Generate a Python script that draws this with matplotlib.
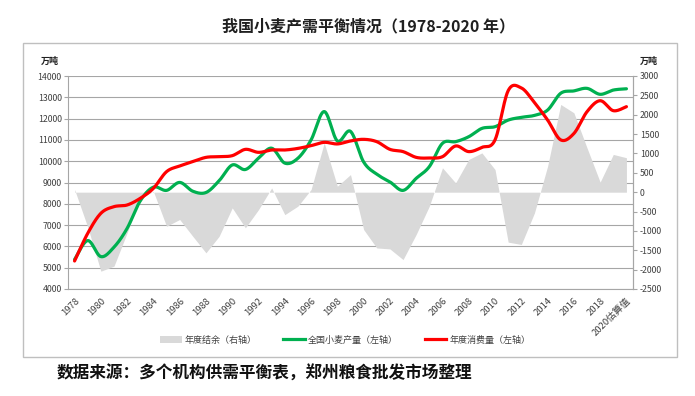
import numpy as np
import matplotlib
matplotlib.use("Agg")
import matplotlib.pyplot as plt
from matplotlib.patches import Patch, Rectangle
from matplotlib.lines import Line2D

plt.rcParams['font.family'] = ['Noto Sans CJK SC', 'DejaVu Sans']
plt.rcParams['axes.unicode_minus'] = False

years = list(range(1978, 2021))
tick_labels = [str(y) for y in years[:-1]] + ["2020估算值"]

production = [5384, 6273, 5521, 5964, 6847, 8139, 8782, 8630, 9004, 8590,
              8530, 9081, 9823, 9610, 10140, 10610, 9910, 10140, 11000, 12329,
              10950, 11400, 9964, 9387, 9029, 8630, 9195, 9745, 10840, 10917,
              11150, 11540, 11620, 11930, 12060, 12150, 12400, 13190, 13300, 13420,
              13140, 13340, 13400]

consumption = [5315, 6613, 7553, 7866, 7944, 8257, 8726, 9509, 9775, 9978,
               10180, 10213, 10260, 10556, 10416, 10526, 10526, 10600, 10730, 10886,
               10810, 10950, 11027, 10917, 10556, 10450, 10180, 10150, 10213, 10714,
               10450, 10650, 11000, 13311, 13440, 12750, 11934, 11000, 11300, 12325,
               12840, 12372, 12560]

surplus = [70, -900, -2040, -1910, -1050, -150, 20, -880, -705, -1140,
           -1566, -1140, -405, -920, -450, 110, -580, -360, 70, 1275,
           155, 455, -965, -1440, -1465, -1740, -1090, -360, 630, 240,
           845, 1015, 585, -1290, -1350, -535, 670, 2265, 2050, 1145,
           260, 975, 890]

title = "我国小麦产需平衡情况（1978-2020 年）"
source = "数据来源：多个机构供需平衡表，郑州粮食批发市场整理"
legend_labels = ["年度结余（右轴）", "全国小麦产量（左轴）", "年度消费量（左轴）"]

GREEN = "#00b050"
RED = "#ff0000"
GRAY = "#d9d9d9"
LINEC = "#a6a6a6"


def smooth(x, y, n=24):
    pts = np.column_stack([x, y]).astype(float)
    P = np.vstack([pts[0], pts, pts[-1]])
    out = []
    t = np.linspace(0, 1, n, endpoint=False)[:, None]
    for i in range(len(pts) - 1):
        p0, p1, p2, p3 = P[i], P[i + 1], P[i + 2], P[i + 3]
        c = 0.5 * ((2 * p1) + (-p0 + p2) * t + (2 * p0 - 5 * p1 + 4 * p2 - p3) * t ** 2
                   + (-p0 + 3 * p1 - 3 * p2 + p3) * t ** 3)
        out.append(c)
    out.append(pts[-1][None, :])
    out = np.vstack(out)
    return out[:, 0], out[:, 1]


W, H = 695, 396
fig = plt.figure(figsize=(W / 100, H / 100), dpi=100)

L, R, T, B = 68, 633, 76, 289
ax1 = fig.add_axes([L / W, 1 - B / H, (R - L) / W, (B - T) / H])
ax2 = ax1.twinx()

x = np.arange(len(years))
ax1.set_xlim(-0.5, len(years) - 0.5)
ax1.set_ylim(4000, 14000)
ax2.set_ylim(-2500, 3000)
ax1.set_autoscale_on(False)
ax2.set_autoscale_on(False)

ax1.set_yticks(range(4000, 14001, 1000))
ax2.set_yticks(range(-2500, 3001, 500))
ax1.yaxis.grid(True, color=LINEC, lw=0.8)
ax1.set_axisbelow(True)

# surplus area drawn in right-axis coordinates
ax1.fill_between(x, 0, surplus, color=GRAY, lw=0, transform=ax2.transData, zorder=1.5)

sx, sy = smooth(x, production)
ax1.plot(sx, sy, color=GREEN, lw=2.3, zorder=3, solid_capstyle='round')
sx, sy = smooth(x, consumption)
ax1.plot(sx, sy, color=RED, lw=2.3, zorder=4, solid_capstyle='round')

ax1.set_xticks(x[::2])
ax1.set_xticklabels(tick_labels[::2], rotation=45, ha='right', va='top',
                    rotation_mode='anchor', fontsize=6.8, color='#404040')
ax1.tick_params(axis='x', length=0, pad=5)
ax1.tick_params(axis='y', length=3, width=0.8, color=LINEC, labelsize=6.3, pad=1.5,
                labelcolor='#404040')
ax2.tick_params(axis='y', length=3, width=0.8, color=LINEC, labelsize=6.3, pad=2,
                labelcolor='#404040')

for ax in (ax1, ax2):
    for s in ax.spines.values():
        s.set_color(LINEC)
        s.set_linewidth(0.8)
    ax.spines['top'].set_visible(False)
ax2.spines['left'].set_visible(False)
ax2.spines['bottom'].set_visible(False)

# unit labels
fig.text(50 / W, 1 - 61 / H, "万吨", ha='center', va='center', fontsize=6.5,
         fontweight='bold', color='#202020')
fig.text(649 / W, 1 - 61 / H, "万吨", ha='center', va='center', fontsize=6.5,
         fontweight='bold', color='#202020')

# title
fig.text(368 / W, 1 - 26 / H, title, ha='center', va='center', fontsize=11.5,
         fontweight='bold', color='#202020')

# legend
handles = [Patch(facecolor=GRAY, edgecolor='none'),
           Line2D([], [], color=GREEN, lw=2.3),
           Line2D([], [], color=RED, lw=2.3)]
fig.legend(handles, legend_labels, loc='center', bbox_to_anchor=(345 / W, 1 - 340 / H),
           ncol=3, frameon=False, fontsize=6.5, handlelength=2.4, handletextpad=0.3,
           columnspacing=3.0, labelcolor='#404040')

# outer frame
fig.patches.append(Rectangle((23 / W, 1 - 357 / H), (677 - 23) / W, (357 - 43) / H,
                             transform=fig.transFigure, fill=False, ec='#bfbfbf', lw=1))

# source
fig.text(57 / W, 1 - 374 / H, source, ha='left', va='center', fontsize=12,
         fontweight='bold', color='#111111')

fig.savefig("out.png", dpi=100)
